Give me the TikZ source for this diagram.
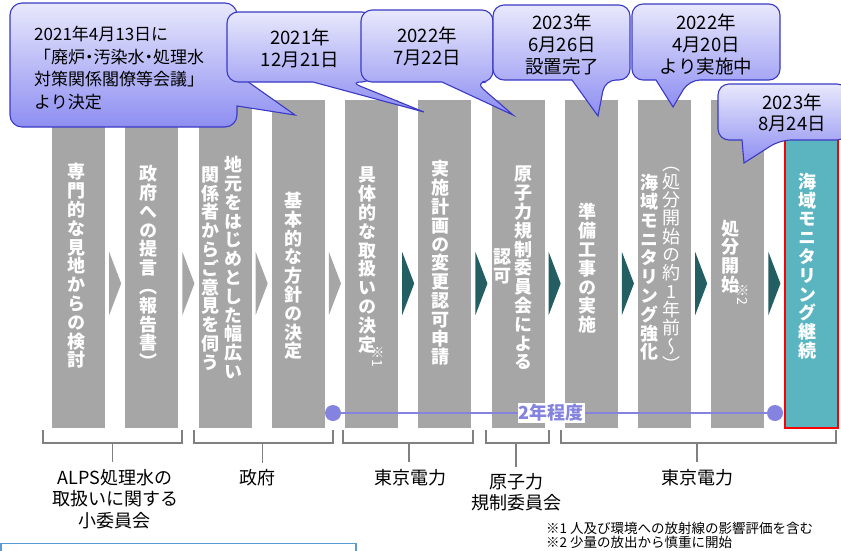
\documentclass[tikz,border=0pt]{standalone}
\usepackage{fontspec}
\setmainfont{Noto Sans CJK JP}
\newfontfamily\tatefont[RawFeature=+vert]{Noto Sans CJK JP}
\usetikzlibrary{calc}
\definecolor{colgray}{HTML}{A6A6A6}
\definecolor{colteal}{HTML}{5AB5C0}
\definecolor{chevteal}{HTML}{235E63}
\definecolor{calltop}{HTML}{E8E8FC}
\definecolor{callbot}{HTML}{8E8EF2}
\definecolor{calledge}{HTML}{3A3AC4}
\definecolor{spancol}{HTML}{8484E0}
\definecolor{brkgray}{HTML}{808080}
\definecolor{boxblue}{HTML}{5B9BD5}
\ExplSyntaxOn
\NewDocumentCommand \tate { m }
  { \vbox { \tl_map_inline:nn {#1} { \hbox_to_wd:nn { 1em } { \hss ##1 \hss } } } }
\ExplSyntaxOff
\newcommand\nakaguro{\kern-.25em・\kern-.25em}
\newcommand\midlines[2]{\vbox{\baselineskip=#1\relax\lineskiplimit=-50pt\relax
  \let\\\cr\halign{\hfil##\hfil\cr#2\crcr}}}
\newcommand\leftlines[2]{\vbox{\baselineskip=#1\relax\lineskiplimit=-50pt\relax
  \let\\\cr\halign{##\hfil\cr#2\crcr}}}

\begin{document}
\begin{tikzpicture}[x=1pt,y=-1pt,
  col/.style={fill=colgray,minimum width=53pt,minimum height=328pt,inner sep=0pt},
  tate/.style={text=white,inner sep=0pt,font=\tatefont\bfseries\fontsize{18}{18.8}\selectfont},
  tatethin/.style={tate,font=\tatefont\fontsize{18}{18.3}\selectfont},
  note/.style={text=white,inner sep=0pt,rotate=-90,anchor=west,font=\fontsize{14}{14}\selectfont},
  call/.style={draw=calledge,line width=1.1pt,top color=calltop,bottom color=callbot},
  calltext/.style={inner sep=0pt,font=\fontsize{18.5}{22}\selectfont},
  brk/.style={draw=brkgray,line width=1.2pt},
  lab/.style={inner sep=0pt,font=\fontsize{18}{21.5}\selectfont},
  fn/.style={anchor=west,inner sep=0pt,font=\fontsize{13.5}{13.5}\selectfont},
  dot/.style={circle,fill=spancol,minimum size=16pt,inner sep=0pt}]
  \useasboundingbox (0,0) rectangle (841,550);

  \foreach \i in {1,...,10}
    \node[col] (c\i) at ({78.5+73.25*(\i-1)},264) {};
  \node[col,fill=colteal,draw=red,line width=2pt] (c11) at (811,264) {};

  \foreach \i in {1,...,4}
    \fill[colgray] ($(c\i.east)+(4,-12)$) -- ++(12,31.5) -- ++(-12,31.5) -- cycle;
  \foreach \i in {5,...,10}
    \fill[chevteal] ($(c\i.east)+(4,-12)$) -- ++(12,31.5) -- ++(-12,31.5) -- cycle;

  \node[tate] (v1) at (76,266) {\tate{専門的な見地からの検討}};
  \node[tate] (v2) at (148,267) {\tate{政府への提言（報告書）}};
  \node[tate] (v3a) at (233,267.5) {\tate{地元をはじめとした幅広い}};
  \node[tate] (v3b) at (210,268.5) {\tate{関係者からご意見を伺う}};
  \node[tate] (v4) at (293,276) {\tate{基本的な方針の決定}};
  \node[tate] (v5) at (367,260) {\tate{具体的な取扱いの決定}};
  \node[note] (m1) at (378,345) {※1};
  \node[tate] (v6) at (440,263) {\tate{実施計画の変更認可申請}};
  \node[tate] (v7a) at (523,268) {\tate{原子力規制委員会による}};
  \node[tate] (v7b) at (502,266.5) {\tate{認可}};
  \node[tate] (v8) at (587,268.5) {\tate{準備工事の実施}};
  \node[tatethin] (v9a) at (671,269) {\tate{（処分開始の約1年前〜）}};
  \node[tate] (v9b) at (649,267.5) {\tate{海域モニタリング強化}};
  \node[tate] (v10) at (730,256.5) {\tate{処分開始}};
  \node[note] (m2) at (743,283) {※2};
  \node[tate] (v11) at (807,266) {\tate{海域モニタリング継続}};

  \node[dot] (d1) at (333,413) {};
  \node[dot] (d2) at (775,413) {};
  \draw[spancol,line width=2.5pt] (d1) -- node[pos=0.493,fill=white,inner sep=1pt,text=spancol,
    font=\bfseries\fontsize{18}{18}\selectfont] (span) {2年程度} (d2);

  \node[lab] (l1) at (115,499) {\midlines{21.5pt}{ALPS処理水の\\取扱いに関する\\小委員会}};
  \node[lab] (l2) at (257,478) {政府};
  \node[lab] (l3) at (410,478) {東京電力};
  \node[lab] (l4) at (516,492.5) {\midlines{21pt}{原子力\\規制委員会}};
  \node[lab] (l5) at (697,478) {東京電力};
  \coordinate (b1) at (112.5,443);
  \coordinate (b2) at (262.5,443);
  \coordinate (b3) at (409,443);
  \coordinate (b4) at (516,443);
  \coordinate (b5) at (697,443);
  \draw[brk] (43,430) |- (182,443) -- (182,430);
  \draw[brk] (194,430) |- (333,443) -- (333,430);
  \draw[brk] (343,430) |- (473,443) -- (473,430);
  \draw[brk] (486,430) |- (549,443) -- (549,430);
  \draw[brk] (561,430) |- (836,443) -- (836,430);
  \foreach \b/\l in {b1/l1,b2/l2,b3/l3,b4/l4,b5/l5}
    \draw[brk,shorten >=7pt] (\b) -- (\b |- \l.north);

  \node[fn] (f1) at (546,528) {※1 人及び環境への放射線の影響評価を含む};
  \node[fn] (f2) at (546,542) {※2 少量の放出から慎重に開始};
  \draw[boxblue,line width=1.6pt] (1,543.5) rectangle (356,580);

  \coordinate (p1) at (295,115);
  \coordinate (p2) at (424,112);
  \coordinate (p3) at (513,115);
  \coordinate (p4) at (598,116);
  \coordinate (p5) at (673,107);
  \coordinate (p6) at (744,163);

  \path[call] (120,3) [rounded corners=12pt] -- (237,3) -- (237,74) [sharp corners] -- (p1)
    -- (237,106) -- (237,107) [rounded corners=12pt] -- (237,127) -- (10,127) -- (10,3) -- cycle;
  \node[calltext,anchor=west,font=\fontsize{17}{23}\selectfont] (n1) at (34,68)
    {\leftlines{22.5pt}{2021年4月13日に\\「廃炉\nakaguro 汚染水\nakaguro 処理水\\対策関係閣僚等会議」\\より決定}};

  \path[call] (300,12) [rounded corners=11pt] -- (373,12) -- (373,82) -- (350,82) [sharp corners]
    -- (p2) -- (313,82) -- (312,82) [rounded corners=11pt] -- (227,82) -- (227,12) -- cycle;
  \node[calltext] (n2) at (300,48.5) {\midlines{21.5pt}{2021年\\12月21日}};

  \path[call] (427,10) [rounded corners=11pt] -- (493,10) -- (493,82) -- (475,82) [sharp corners]
    -- (p3) -- (442,82) -- (441,82) [rounded corners=11pt] -- (361,82) -- (361,10) -- cycle;
  \node[calltext] (n3) at (427,46.5) {\midlines{22pt}{2022年\\7月22日}};

  \path[call] (562,5) [rounded corners=11pt] -- (630,5) -- (630,80) -- (605,80) [sharp corners]
    -- (p4) -- (572,80) -- (571,80) [rounded corners=11pt] -- (493,80) -- (493,5) -- cycle;
  \node[calltext] (n4) at (562,44.5) {\midlines{22pt}{2023年\\6月26日\\設置完了}};

  \path[call] (706,4) [rounded corners=11pt] -- (780,4) -- (780,80) -- (689,80) [sharp corners]
    -- (p5) -- (656,80) -- (655,80) [rounded corners=11pt] -- (632,80) -- (632,4) -- cycle;
  \node[calltext] (n5) at (706,44.5) {\midlines{22pt}{2022年\\4月20日\\より実施中}};

  \path[call] (790,84) [rounded corners=11pt] -- (848,84) -- (848,140) -- (780,140) [sharp corners]
    -- (p6) -- (742,140) -- (741,140) [rounded corners=11pt] -- (718,140) -- (718,84) -- cycle;
  \node[calltext] (n6) at (792,112.5) {\midlines{21pt}{2023年\\8月24日}};
\end{tikzpicture}
\end{document}
